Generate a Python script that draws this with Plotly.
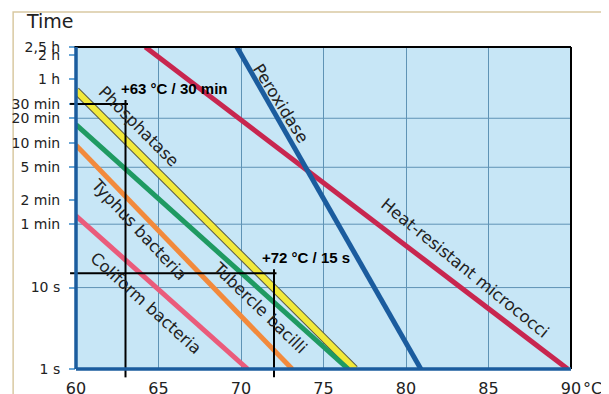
import numpy as np
import plotly.graph_objects as go

# ---- data -------------------------------------------------------------
series_names = ["Heat-resistant micrococci", "Peroxidase", "Phosphatase",
                "Tubercle bacilli", "Typhus bacteria", "Coliform bacteria"]
temp_start = [64.2, 69.75, 60.0, 60.0, 60.0, 60.0]      # °C
time_start = [9000, 9000, 2630, 1000, 560, 76]           # seconds
temp_end = [89.8, 80.9, 76.9, 76.5, 73.1, 70.4]         # °C
time_end = [1, 1, 1, 1, 1, 1]                            # seconds

x_tick_vals = [60, 65, 70, 75, 80, 85, 90]
x_tick_text = ["60", "65", "70", "75", "80", "85", "90"]
y_tick_vals = [9000, 7200, 3600, 1800, 1200, 600, 300, 120, 60, 10, 1]
y_tick_text = ["2,5 h", "2 h", "1 h", "30 min", "20 min", "10 min",
               "5 min", "2 min", "1 min", "10 s", "1 s"]
y_grid_vals = [1200, 300, 60, 10]

marker_points_temp = [63, 72]
marker_points_time = [1800, 15]
marker_labels = ["+63 °C / 30 min", "+72 °C / 15 s"]

# ---- style ------------------------------------------------------------
colors = {
    "Heat-resistant micrococci": "#c8264f",
    "Peroxidase": "#1b5c9e",
    "Phosphatase": "#f2e93a",
    "Tubercle bacilli": "#1f9a62",
    "Typhus bacteria": "#f28a3c",
    "Coliform bacteria": "#ea5b7b",
}
label_pos = {  # (temp, log10 seconds, angle)
    "Heat-resistant micrococci": (83.6, 1.24, 39),
    "Peroxidase": (72.4, 3.26, 58),
    "Phosphatase": (63.8, 2.98, 45),
    "Tubercle bacilli": (71.1, 0.75, 44),
    "Typhus bacteria": (63.8, 1.71, 47),
    "Coliform bacteria": (64.25, 0.81, 42),
}
marker_label_pos = [(65.94, 3.44), (73.94, 1.364)]
AXIS_BLUE = "#1b5c9e"
BG = "#c7e6f6"
GRID = "#5f93b5"
FONT = "DejaVu Sans"
TXT = "#222222"

fig = go.Figure()

for name, t0, s0, t1, s1 in zip(series_names, temp_start, time_start, temp_end, time_end):
    if name == "Phosphatase":
        fig.add_trace(go.Scatter(x=[t0, t1], y=[s0, s1], mode="lines",
                                 line=dict(color="#5d5d45", width=8),
                                 hoverinfo="skip", showlegend=False))
        fig.add_trace(go.Scatter(x=[t0, t1], y=[s0, s1], mode="lines",
                                 line=dict(color=colors[name], width=6),
                                 name=name, showlegend=False))
    else:
        fig.add_trace(go.Scatter(x=[t0, t1], y=[s0, s1], mode="lines",
                                 line=dict(color=colors[name], width=5),
                                 name=name, showlegend=False))

shapes = []
# horizontal grid lines
for v in y_grid_vals:
    shapes.append(dict(type="line", xref="paper", x0=0, x1=1, yref="y", y0=v, y1=v,
                       line=dict(color=GRID, width=1), layer="below"))

# crosshair marker lines
for T, s in zip(marker_points_temp, marker_points_time):
    shapes.append(dict(type="line", xref="x", x0=60, x1=T + 0.15, yref="y", y0=s, y1=s,
                       line=dict(color="black", width=2), layer="above"))
    shapes.append(dict(type="line", xref="paper", x0=-0.012, x1=0, yref="y", y0=s, y1=s,
                       line=dict(color="black", width=2), layer="above"))
    shapes.append(dict(type="line", xref="x", x0=T, x1=T, yref="y", y0=1, y1=s * 1.12,
                       line=dict(color="black", width=2), layer="above"))
    shapes.append(dict(type="line", xref="x", x0=T, x1=T, yref="paper", y0=-0.026, y1=0,
                       line=dict(color="black", width=2), layer="above"))

# frame: black top/right, blue left/bottom
shapes += [
    dict(type="line", xref="paper", yref="paper", x0=-0.003, x1=1, y0=1, y1=1,
         line=dict(color="black", width=2), layer="above"),
    dict(type="line", xref="paper", yref="paper", x0=1, x1=1, y0=0, y1=1,
         line=dict(color="black", width=2), layer="above"),
    dict(type="line", xref="paper", yref="paper", x0=0, x1=0, y0=0, y1=1,
         line=dict(color=AXIS_BLUE, width=3.5), layer="above"),
    dict(type="line", xref="paper", yref="paper", x0=0, x1=1, y0=0, y1=0,
         line=dict(color=AXIS_BLUE, width=3.5), layer="above"),
    # outer tan border of the original image
    dict(type="rect", xref="paper", yref="paper", x0=-0.127, x1=1.067, y0=-0.2, y1=1.109,
         line=dict(color="#d9c9a2", width=1.5), layer="below"),
]

annotations = []
for name in series_names:
    T, ly, ang = label_pos[name]
    annotations.append(dict(x=T, y=ly, xref="x", yref="y", text=name, showarrow=False,
                            textangle=ang, font=dict(family=FONT, size=16.5, color=TXT)))
for (lx, ly), txt in zip(marker_label_pos, marker_labels):
    annotations.append(dict(x=lx, y=ly, xref="x", yref="y", text="<b>" + txt + "</b>",
                            showarrow=False, xanchor="center", yanchor="middle",
                            font=dict(family="Liberation Sans", size=15, color="black")))
annotations.append(dict(x=-0.052, y=1.08, xref="paper", yref="paper", text="Time",
                        xanchor="center", yanchor="middle",
                        showarrow=False, font=dict(family=FONT, size=19, color=TXT)))
annotations.append(dict(x=1.0, y=-0.06, xref="paper", yref="paper", text="°C",
                        xanchor="left", yanchor="middle", xshift=10, showarrow=False,
                        font=dict(family=FONT, size=16, color=TXT)))

# page body has an 8 px margin, so the figure is sized to fit the window
fig.update_layout(
    width=601, height=386,
    margin=dict(l=68, r=38, t=39, b=25, autoexpand=False),
    paper_bgcolor="white", plot_bgcolor=BG,
    showlegend=False,
    shapes=shapes, annotations=annotations,
    font=dict(family=FONT, color=TXT),
)
fig.update_xaxes(range=[60, 90], tickvals=x_tick_vals, ticktext=x_tick_text,
                 showgrid=True, gridcolor=GRID, gridwidth=1, zeroline=False,
                 showline=False, ticks="", ticklabelstandoff=8, automargin=False,
                 tickfont=dict(family=FONT, size=16, color=TXT))
fig.update_yaxes(type="log", range=[0, np.log10(9000)], tickvals=y_tick_vals,
                 ticktext=y_tick_text, showgrid=False, zeroline=False, showline=False,
                 ticks="outside", ticklen=6, tickcolor="#6aa6d6", tickwidth=1.5,
                 ticklabelstandoff=6, automargin=False,
                 tickfont=dict(family=FONT, size=14, color=TXT))

fig.write_html("out.html")
